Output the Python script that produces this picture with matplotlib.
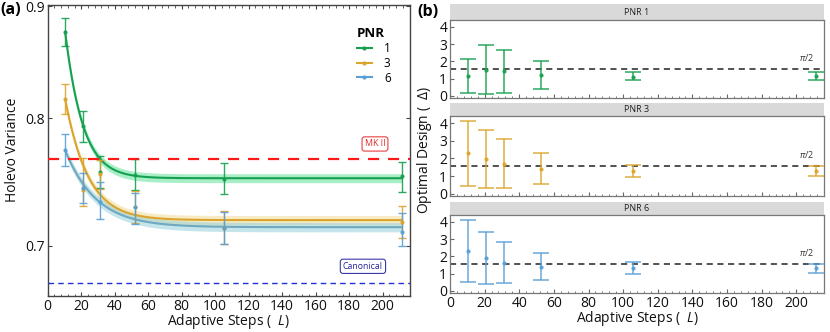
import numpy as np
import matplotlib
matplotlib.use("Agg")
import matplotlib.pyplot as plt
from matplotlib.lines import Line2D
from matplotlib.ticker import MultipleLocator, NullLocator, NullFormatter, FixedLocator, FixedFormatter

plt.rcParams['font.family'] = ['Open Sans', 'DejaVu Sans']
plt.rcParams['mathtext.fontset'] = 'custom'
plt.rcParams['mathtext.rm'] = 'Open Sans'
plt.rcParams['mathtext.it'] = 'Open Sans:italic'

# ---------------- data ----------------
L = [10.4, 21, 31.2, 52.4, 105.5, 211.5]
pnr_labels = ['1', '3', '6']

# Panel (a): Holevo variance points and error bars
hv_pnr1 = [0.876, 0.7936, 0.7563, 0.7542, 0.7510, 0.7527]
hv_pnr1_lo = [0.863, 0.7804, 0.7440, 0.7420, 0.7389, 0.7406]
hv_pnr1_hi = [0.889, 0.8065, 0.7694, 0.7666, 0.7634, 0.7645]

hv_pnr3 = [0.8164, 0.7424, 0.7550, 0.7290, 0.7128, 0.7175]
hv_pnr3_lo = [0.8035, 0.7300, 0.7430, 0.7165, 0.7010, 0.7057]
hv_pnr3_hi = [0.8291, 0.7678, 0.7660, 0.7413, 0.7258, 0.7298]

hv_pnr6 = [0.7737, 0.7437, 0.7330, 0.7290, 0.7128, 0.7103]
hv_pnr6_lo = [0.7614, 0.7317, 0.7200, 0.7160, 0.7010, 0.7000]
hv_pnr6_hi = [0.7867, 0.7557, 0.7480, 0.7394, 0.7250, 0.7242]

# exponential fit parameters: asymptote, amplitude at L0, decay length
fit_L0 = 10.4
fit_pnr1 = (0.7513, 0.1247, 10.0)
fit_pnr3 = (0.7190, 0.0974, 13.0)
fit_pnr6 = (0.7137, 0.0600, 18.0)
band_halfwidth = 0.0035

mk2_level = 0.7666
canonical_level = 0.6731

# Panel (b): optimal design
od_pnr1 = [1.16, 1.50, 1.43, 1.24, 1.12, 1.18]
od_pnr1_lo = [0.19, 0.10, 0.15, 0.42, 0.90, 0.95]
od_pnr1_hi = [2.13, 2.93, 2.67, 2.04, 1.37, 1.41]

od_pnr3 = [2.30, 1.98, 1.71, 1.43, 1.27, 1.27]
od_pnr3_lo = [0.44, 0.36, 0.36, 0.55, 0.93, 1.01]
od_pnr3_hi = [4.13, 3.62, 3.09, 2.30, 1.62, 1.56]

od_pnr6 = [2.30, 1.90, 1.64, 1.40, 1.30, 1.30]
od_pnr6_lo = [0.53, 0.40, 0.45, 0.63, 0.96, 1.04]
od_pnr6_hi = [4.10, 3.40, 2.86, 2.20, 1.65, 1.58]

x_ticks = [0, 20, 40, 60, 80, 100, 120, 140, 160, 180, 200]

# ---------------- styles ----------------
c_green = '#17a04f'
c_yellow = '#dba42c'
c_blue = '#5a9fd6'
band_green = '#62e29b'
band_yellow = '#efdc95'
band_blue = '#95d0dc'
line_blue = '#6fa8bf'
frame = '#444444'

W, H = 830, 332
fig = plt.figure(figsize=(W / 100, H / 100), dpi=100)

def frac(x0, y0, x1, y1):
    return [x0 / W, 1 - y1 / H, (x1 - x0) / W, (y1 - y0) / H]

# ---------------- panel (a) ----------------
ax = fig.add_axes(frac(47.7, 5, 409.5, 296))
ax.set_yscale('log')
ax.set_xlim(0, 216)
ax.set_ylim(0.664, 0.901)

Lc = np.linspace(fit_L0, L[-1], 300)
series = [
    (hv_pnr1, hv_pnr1_lo, hv_pnr1_hi, fit_pnr1, c_green, band_green, c_green),
    (hv_pnr3, hv_pnr3_lo, hv_pnr3_hi, fit_pnr3, c_yellow, band_yellow, c_yellow),
    (hv_pnr6, hv_pnr6_lo, hv_pnr6_hi, fit_pnr6, c_blue, band_blue, line_blue),
]
for vals, lo, hi, (a, b, tau), col, bcol, lcol in series:
    f = a + b * np.exp(-(Lc - fit_L0) / tau)
    ax.fill_between(Lc, f - band_halfwidth, f + band_halfwidth, color=bcol, alpha=0.55, lw=0, zorder=1)
    ax.plot(Lc, f, color=lcol, lw=1.5, zorder=2)
for vals, lo, hi, _, col, _, _ in series:
    v = np.array(vals)
    yerr = [v - np.array(lo), np.array(hi) - v]
    ax.errorbar(L, v, yerr=yerr, fmt='o', ms=2, color=col, ecolor=col, elinewidth=1.0,
                capsize=3, capthick=1.0, alpha=0.9, zorder=3)

ax.axhline(mk2_level, color='#ff1a1a', ls=(0, (5, 4)), lw=1.6, zorder=4)
ax.axhline(canonical_level, color='#1f2fd6', ls=(0, (4, 3)), lw=1.0, zorder=4)
ax.text(195.4, 0.7788, 'MK II', fontsize=6.3, color='#e02828', ha='center', va='center',
        bbox=dict(boxstyle='round,pad=0.3,rounding_size=0.3', fc='white', ec='#e84040', lw=0.8))
ax.text(188.2, 0.685, 'Canonical', fontsize=6.3, color='#26269a', ha='center', va='center',
        bbox=dict(boxstyle='round,pad=0.3,rounding_size=0.3', fc='white', ec='#3a3aa8', lw=0.8))

ax.yaxis.set_major_locator(FixedLocator([0.7, 0.8, 0.9]))
ax.yaxis.set_major_formatter(FixedFormatter(['0.7', '0.8', '0.9']))
ax.yaxis.set_minor_locator(NullLocator())
ax.yaxis.set_minor_formatter(NullFormatter())
ax.set_xticks(x_ticks)
ax.xaxis.set_minor_locator(MultipleLocator(4))
ax.tick_params(which='both', direction='in', top=True, right=True, colors=frame,
               labelcolor='#111111', labelsize=10, pad=2)
ax.tick_params(which='major', length=3, width=0.8)
ax.tick_params(which='minor', length=1.8, width=0.6)
for s in ax.spines.values():
    s.set_color(frame)
    s.set_linewidth(1.0)
ax.set_xlabel('Adaptive Steps (  $\\mathit{L}$)', fontsize=10, labelpad=-1, color='#111111')

handles = [Line2D([0], [0], color=c, lw=1.5, marker='o', ms=2) for c in (c_green, c_yellow, c_blue)]
leg = ax.legend(handles, pnr_labels, title='PNR', loc='upper left', bbox_to_anchor=(0.825, 0.96),
                frameon=False, fontsize=8.5, handlelength=1.3, handletextpad=1.0, labelspacing=0.15,
                title_fontproperties={'weight': 'bold', 'size': 9.5})
leg._legend_box.align = 'left'

fig.text(13 / W, 1 - 150 / H, 'Holevo Variance', rotation=90, fontsize=10, ha='center', va='center',
         color='#111111')
fig.text(0.0, 1 - 10 / H, '(a)', fontsize=11.5, fontweight='bold', ha='left', va='center')

# ---------------- panel (b) ----------------
facets = [
    ('PNR 1', od_pnr1, od_pnr1_lo, od_pnr1_hi, c_green, (4.3, 20), (20, 98)),
    ('PNR 3', od_pnr3, od_pnr3_lo, od_pnr3_hi, c_yellow, (102.7, 116), (116, 196)),
    ('PNR 6', od_pnr6, od_pnr6_lo, od_pnr6_hi, c_blue, (201.7, 215), (215, 293)),
]
for i, (name, vals, lo, hi, col, (sy0, sy1), (py0, py1)) in enumerate(facets):
    sax = fig.add_axes(frac(450, sy0, 824, sy1))
    sax.set_facecolor('#d9d9d9')
    sax.set_xticks([]); sax.set_yticks([])
    for s in sax.spines.values():
        s.set_visible(False)
    sax.text(0.5, 0.5, name, transform=sax.transAxes, ha='center', va='center', fontsize=6.5,
             color='#222222')

    bx = fig.add_axes(frac(450, py0, 824, py1))
    bx.set_xlim(0, 216)
    bx.set_ylim(-0.12, 4.4)
    v = np.array(vals)
    bx.errorbar(L, v, yerr=[v - np.array(lo), np.array(hi) - v], fmt='o', ms=2, color=col,
                ecolor=col, elinewidth=1.1, capsize=6, capthick=1.1, alpha=0.9, zorder=3)
    bx.axhline(np.pi / 2, color='#222222', ls=(0, (4, 3)), lw=1.1, zorder=2)
    bx.text(206, 2.25, '$\\pi$/2', fontsize=6.5, ha='center', va='center', color='#333333')
    bx.set_yticks([0, 1, 2, 3, 4])
    bx.set_xticks(x_ticks)
    bx.xaxis.set_minor_locator(MultipleLocator(4))
    bx.tick_params(which='both', direction='in', colors='#666666', labelcolor='#111111',
                   labelsize=10, pad=2)
    bx.tick_params(which='major', length=3, width=0.8)
    bx.tick_params(which='minor', length=1.8, width=0.6)
    for s in bx.spines.values():
        s.set_color('#777777')
        s.set_linewidth(0.9)
    if i < 2:
        bx.tick_params(axis='x', labelbottom=False)
    else:
        bx.set_xlabel('Adaptive Steps (  $\\mathit{L}$)', fontsize=10, labelpad=-1, color='#111111')

fig.text(424 / W, 1 - 150 / H, 'Optimal Design (  $\\mathit{\\Delta}$)', rotation=90, fontsize=10,
         ha='center', va='center', color='#111111')
fig.text(417 / W, 1 - 12 / H, '(b)', fontsize=11.5, fontweight='bold', ha='left', va='center')

fig.savefig('out.png', dpi=100)
